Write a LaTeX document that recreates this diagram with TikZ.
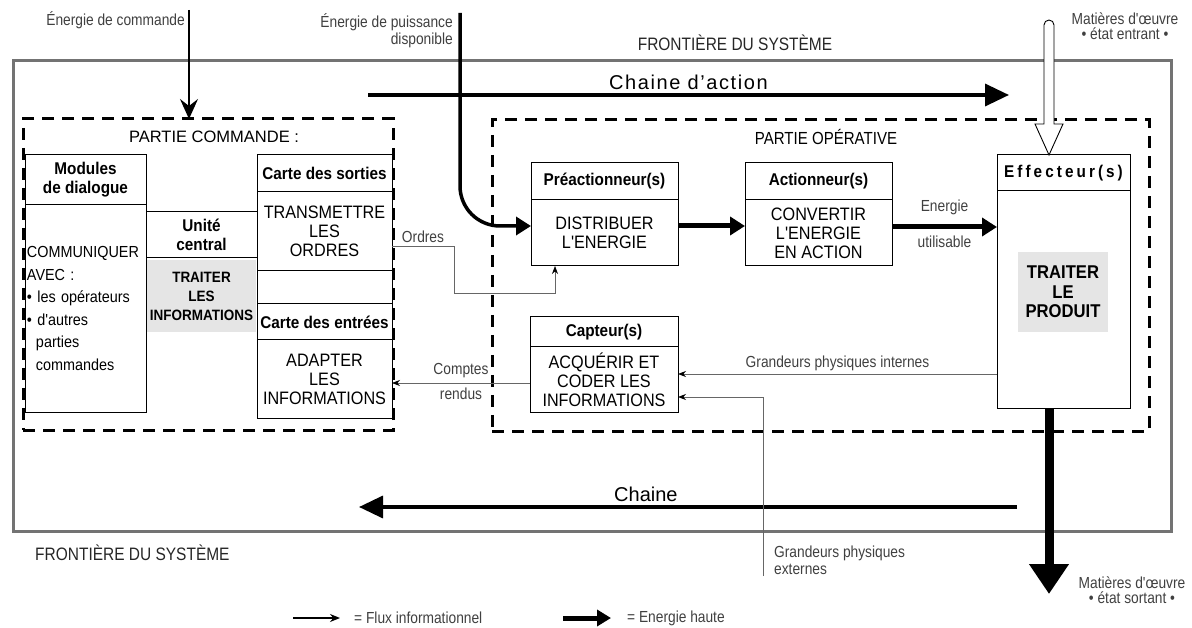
\documentclass[tikz,border=0pt]{standalone}
\usepackage{fontspec}
\setmainfont{Liberation Sans}
\newfontfamily\boxfont{Liberation Sans}[FakeStretch=0.9]
\newfontfamily\lblfont{Liberation Sans}[FakeStretch=0.86]
\usetikzlibrary{arrows.meta,positioning,calc}

\begin{document}
\begin{tikzpicture}[
  x=1pt, y=-1pt,
  boxhead/.style={draw, line width=1pt, inner sep=0pt, outer sep=0pt, align=center,
    font=\boxfont\bfseries\fontsize{17}{19}\selectfont},
  boxbody/.style={draw, line width=1pt, inner sep=0pt, outer sep=0pt, align=center,
    font=\boxfont\fontsize{18}{19}\selectfont},
  tint/.style={fill=black!10, inner sep=0pt, outer sep=0pt, align=center,
    font=\boxfont\bfseries\fontsize{15}{19}\selectfont},
  zone/.style={draw, line width=3pt, dash pattern=on 12pt off 8pt, inner sep=0pt, outer sep=0pt},
  zonetitle/.style={font=\fontsize{16.5}{19}\selectfont},
  lbl/.style={text=black!75, inner sep=2pt, align=center, font=\lblfont\fontsize{16}{17}\selectfont},
  chainlbl/.style={inner sep=1pt, font=\fontsize{20}{22}\selectfont},
  infoarrow/.style={-{Stealth[length=8pt,width=6pt,black]}, line width=0.7pt, draw=black!60},
  cmdarrow/.style={-{Stealth[length=20pt,width=18pt,inset=7pt]}, line width=1.4pt},
  powerarrow/.style={-{Triangle[length=15pt,width=18pt]}, line width=5pt},
  chainarrow/.style={-{Triangle[length=24pt,width=22pt]}, line width=3.5pt},
  outarrow/.style={-{Triangle[length=30pt,width=38pt]}, line width=9pt}
]
\useasboundingbox (0,0) rectangle (1192,628);

% frontiere et zones
\node[draw=black!55, line width=3pt, inner sep=0pt, minimum width=1158pt, minimum height=471pt, anchor=north west] (sys) at (12,59) {};
\node[lbl, text=black!85, font=\lblfont\fontsize{18}{20}\selectfont] (systtop) at (735,43) {FRONTIÈRE DU SYSTÈME};
\node[lbl, text=black!85, font=\lblfont\fontsize{18}{20}\selectfont, anchor=west] (systbot) at (33,553) {FRONTIÈRE DU SYSTÈME};

\node[zone, minimum width=370pt, minimum height=311pt, anchor=north west] (pcmd) at (23,119) {};
\node[zonetitle] (pcmdt) at (214,137) {PARTIE COMMANDE :};
\node[zone, minimum width=657pt, minimum height=311pt, anchor=north west] (pop) at (492,120) {};
\node[zonetitle, font=\lblfont\fontsize{17.5}{19}\selectfont] (popt) at (826,137) {PARTIE OPÉRATIVE};

% partie commande
\node[boxhead, minimum width=121pt, minimum height=50pt, anchor=north west] (modh) at (25,155) {Modules\\de dialogue};
\node[boxbody, minimum width=121pt, minimum height=207pt, below=0pt of modh, align=left, text width=117pt, inner xsep=2pt,
  font=\boxfont\fontsize{16}{22.5}\selectfont] (modb) {COMMUNIQUER\\AVEC :\\• les opérateurs\\• d'autres\\\hspace*{9pt}parties\\\hspace*{9pt}commandes};

\node[boxhead, minimum width=111pt, minimum height=46pt, anchor=north west] (unih) at (146,212) {Unité\\central};
\node[tint, minimum width=109pt, minimum height=72pt, below=2pt of unih] (unib) {TRAITER\\LES\\INFORMATIONS};

\node[boxhead, minimum width=135pt, minimum height=37pt, anchor=north west] (csorh) at (257,155) {Carte des sorties};
\node[boxbody, minimum width=135pt, minimum height=79pt, below=0pt of csorh] (csorb) {TRANSMETTRE\\LES\\ORDRES};
\node[boxbody, minimum width=135pt, minimum height=33pt, below=0pt of csorb] (cvide) {};
\node[boxhead, minimum width=135pt, minimum height=36pt, below=0pt of cvide] (centh) {Carte des entrées};
\node[boxbody, minimum width=135pt, minimum height=78pt, below=0pt of centh] (centb) {ADAPTER\\LES\\INFORMATIONS};

% partie operative
\node[boxhead, minimum width=147pt, minimum height=37pt, anchor=north west] (preh) at (531,163) {Préactionneur(s)};
\node[boxbody, minimum width=147pt, minimum height=66pt, below=0pt of preh] (preb) {DISTRIBUER\\L'ENERGIE};
\node[boxhead, minimum width=147pt, minimum height=37pt, anchor=north west] (acth) at (745,163) {Actionneur(s)};
\node[boxbody, minimum width=147pt, minimum height=66pt, below=0pt of acth] (actb) {CONVERTIR\\L'ENERGIE\\EN ACTION};
\node[boxhead, minimum width=133pt, minimum height=36pt, anchor=north west,
  font=\boxfont\bfseries\fontsize{17}{19}\selectfont\addfontfeature{LetterSpace=18}] (effh) at (997,155) {Effecteur(s)};
\node[boxbody, minimum width=133pt, minimum height=217pt, below=0pt of effh] (effb) {};
\node[tint, minimum width=90pt, minimum height=80pt, font=\boxfont\bfseries\fontsize{18.5}{19.5}\selectfont] (prod) at (1063,292) {TRAITER\\LE\\PRODUIT};
\node[boxhead, minimum width=148pt, minimum height=30pt, anchor=north west] (caph) at (530,317) {Capteur(s)};
\node[boxbody, minimum width=148pt, minimum height=65pt, below=0pt of caph] (capb) {ACQUÉRIR ET\\CODER LES\\INFORMATIONS};

% energies et matieres
\coordinate (ecmd) at (189,10);
\node[lbl, anchor=east] (ecmdt) at (187,20) {Énergie de commande};
\draw[cmdarrow] (ecmd) -- (ecmd |- pcmd.north);

\coordinate (epuis) at (460,13);
\node[lbl, anchor=north east, align=right] (epuist) at (455,11) {Énergie de puissance\\disponible};
\draw[powerarrow, line width=3.5pt, rounded corners=40pt] (epuis) |- ([yshift=7pt]preb.west);

\coordinate (cha) at (368,95);
\coordinate (chb) at (1009,95);
\draw[chainarrow] (cha) -- node[chainlbl, above=3pt, font=\fontsize{20}{22}\selectfont\addfontfeature{LetterSpace=8}] {Chaine d’action} (chb);

\coordinate (chc) at (1017,507);
\coordinate (chd) at (359,507);
\draw[chainarrow] (chc) -- node[chainlbl, above=3pt, pos=0.564] {Chaine} (chd);

\coordinate (moin) at (1049,25);
\coordinate (mointip) at (moin |- effh.north);
\node[lbl] (moint) at (1125,26) {Matières d'œuvre\\[-2pt]• état entrant •};
\draw[line width=0.9pt, fill=white] ([xshift=-5pt,yshift=31pt]mointip) -- ([xshift=-5pt]moin)
  arc[start angle=180, end angle=0, radius=5pt] -- ([xshift=5pt,yshift=31pt]mointip)
  -- ([xshift=14pt,yshift=31pt]mointip) -- (mointip) -- ([xshift=-14pt,yshift=31pt]mointip) -- cycle;

\coordinate (moout) at (1049,594);
\draw[outarrow] (effb.south -| moout) -- (moout);
\node[lbl] (mooutt) at (1132,590) {Matières d'œuvre\\[-2pt]• état sortant •};

% flux
\draw[powerarrow] ([yshift=7pt]preb.east) -- ([yshift=7pt]actb.west);
\coordinate (pw) at ([yshift=6pt]actb.east);
\draw[powerarrow] (pw) -- node[lbl, above=8pt] {Energie} node[lbl, below=4pt] {utilisable} (pw -| effb.west);

\coordinate (ord) at ([yshift=-14.5pt]csorb.east);
\draw[infoarrow] (ord) -- node[lbl, above=1pt] {Ordres} ++(62,0) -- ++(0,47) -| ([xshift=-49.5pt]preb.south);

\coordinate (cr) at ([yshift=-3.5pt]capb.west);
\draw[infoarrow] (cr) -- node[lbl, above=3pt] {Comptes} node[lbl, below=3pt] {rendus} (cr -| centb.east);

\coordinate (gpi) at ([yshift=5.5pt]capb.east);
\draw[infoarrow] (gpi -| effb.west) -- node[lbl, above=1pt] {Grandeurs physiques internes} (gpi);

\coordinate (gpe) at (763,576);
\coordinate (gpeend) at ([yshift=-17.5pt]capb.east);
\draw[infoarrow] (gpe) |- (gpeend);
\node[lbl, anchor=north west, align=left] (gpet) at (772,544) {Grandeurs physiques\\externes};

% legende
\coordinate (lga) at (293,618);
\coordinate (lgb) at (340,618);
\draw[-{Stealth[length=10pt,width=8pt]}, line width=1.5pt] (lga) -- (lgb);
\node[lbl, anchor=west] (lgat) at (352,618) {= Flux informationnel};
\coordinate (lgc) at (563,618);
\coordinate (lgd) at (611,618);
\draw[-{Triangle[length=14pt,width=16pt]}, line width=5pt] (lgc) -- (lgd);
\node[lbl, anchor=west] (lgct) at (625,618) {= Energie haute};

\end{tikzpicture}
\end{document}
